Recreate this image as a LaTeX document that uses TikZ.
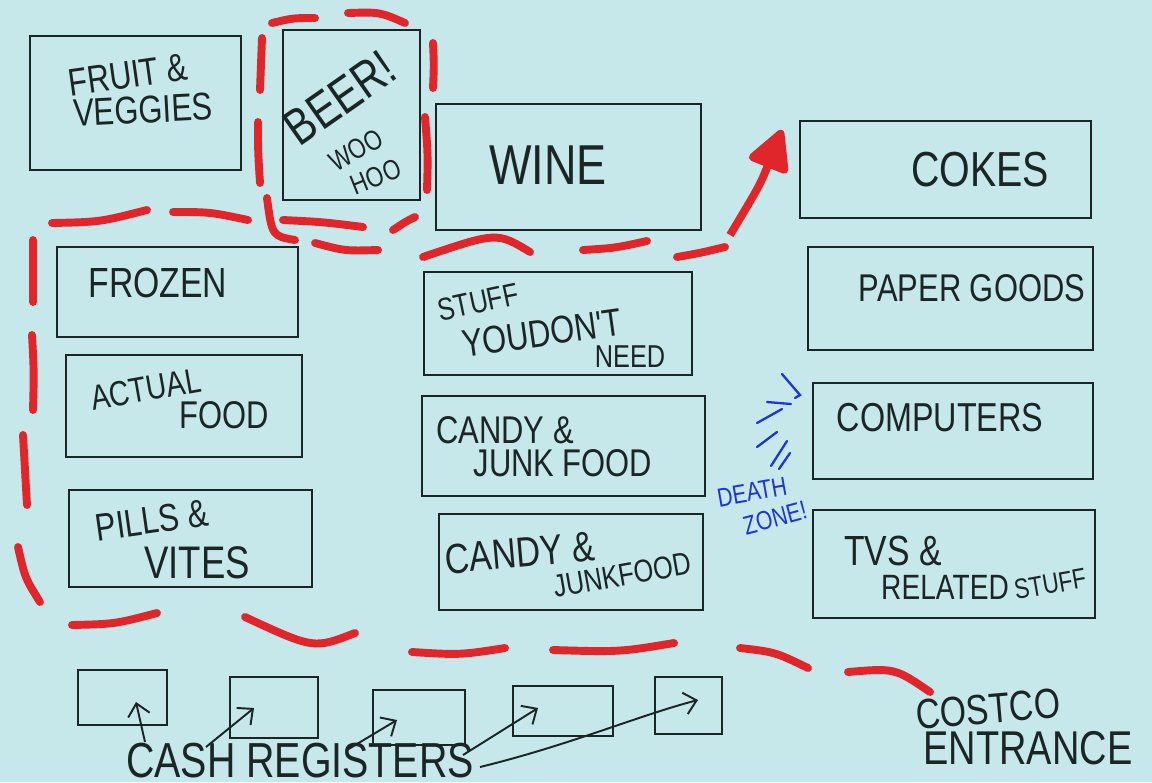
\documentclass[tikz,border=0pt]{standalone}
\usepackage{fontspec}
\usepackage{tikz}
\usetikzlibrary{arrows.meta,fit}
\newfontfamily\handfont[FakeStretch=0.8]{Liberation Sans}
\definecolor{mapbg}{HTML}{C6E8EA}
\definecolor{mapink}{HTML}{1B2526}
\definecolor{maproute}{HTML}{E1262B}
\definecolor{mapblue}{HTML}{1E34D8}
\tikzset{
  aisle/.style={draw=mapink, line width=1.6pt, inner sep=0pt},
  register/.style={draw=mapink, line width=1.6pt, inner sep=0pt},
  handtext/.style={font=\handfont\fontsize{#1}{#1}\selectfont, text=mapink, inner sep=0pt},
  zonetext/.style={font=\handfont\fontsize{#1}{#1}\selectfont, text=mapblue, inner sep=0pt},
  route/.style={draw=maproute, line width=4.5pt, line cap=round},
  penarrow/.style={-{Straight Barb[length=2.4mm,width=4.4mm]}, draw=mapink, line width=1.1pt},
  zoneray/.style={draw=mapblue, line width=1.3pt, line cap=round}
}

\begin{document}
\begin{tikzpicture}[x=0.02cm, y=-0.02cm]
  \fill[mapbg] (0,0) rectangle (1152,782);
  \useasboundingbox (0,0) rectangle (1152,782);

  % aisles
  \foreach \nm/\xa/\ya/\xb/\yb in {fruit/30/36/241/170, beer/283/30/420/200,
      wine/436/104/701/230, cokes/800/121/1091/218, frozen/57/247/298/337,
      stuff/424/272/692/375, paper/808/247/1093/350, food/66/355/302/457,
      candya/422/396/705/496, computers/813/383/1093/479, pills/69/490/312/587,
      candyb/439/514/703/610, tvs/813/510/1095/618}
    \node[aisle, fit={(\xa,\ya) (\xb,\yb)}] (\nm) {};

  % registers
  \foreach \xa/\ya/\xb/\yb [count=\i] in {78/670/167/725, 230/677/318/738,
      373/690/465/745, 513/686/613/736, 655/677/722/734}
    \node[register, fit={(\xa,\ya) (\xb,\yb)}] (reg\i) {};

  % aisle labels
  \node[handtext=22, rotate=8] (fruitlbl) at (128,75) {FRUIT \&};
  \node[handtext=22, rotate=3] (veglbl) at (143,110) {VEGGIES};
  \node[handtext=29, rotate=35] (beerlbl) at (340,98) {BEER!};
  \node[handtext=16, rotate=30] (woolbl) at (356,150) {WOO};
  \node[handtext=16, rotate=22] (hoolbl) at (376,177) {HOO};
  \node[handtext=32] (winelbl) at (548,165) {WINE};
  \node[handtext=28] (cokeslbl) at (980,170) {COKES};
  \node[handtext=24] (frozenlbl) at (158,283) {FROZEN};
  \node[handtext=22] (paperlbl) at (972,288) {PAPER GOODS};
  \node[handtext=18, rotate=12] (stufflbl) at (478,302) {STUFF};
  \node[handtext=22, rotate=8] (dontlbl) at (542,333) {YOUDON'T};
  \node[handtext=18] (needlbl) at (630,357) {NEED};
  \node[handtext=20, rotate=10] (actuallbl) at (146,389) {ACTUAL};
  \node[handtext=22] (foodlbl) at (224,415) {FOOD};
  \node[handtext=22] (candyalbl) at (505,430) {CANDY \&};
  \node[handtext=22] (junkalbl) at (563,463) {JUNK FOOD};
  \node[handtext=23] (complbl) at (940,418) {COMPUTERS};
  \node[handtext=22, rotate=8] (pillslbl) at (152,520) {PILLS \&};
  \node[handtext=26] (viteslbl) at (197,563) {VITES};
  \node[handtext=24, rotate=5] (candyblbl) at (520,553) {CANDY \&};
  \node[handtext=18, rotate=10] (junkblbl) at (622,575) {JUNKFOOD};
  \node[handtext=24] (tvslbl) at (893,551) {TVS \&};
  \node[handtext=20] (relatedlbl) at (945,587) {RELATED};
  \node[handtext=16, rotate=10] (tvstufflbl) at (1050,584) {STUFF};
  \node[handtext=28] (cashlbl) at (300,761) {CASH REGISTERS};
  \node[handtext=24, rotate=5] (costcolbl) at (988,709) {COSTCO};
  \node[handtext=27] (entrancelbl) at (1028,748) {ENTRANCE};

  % the route, dash by dash
  \foreach \xa/\ya/\cx/\cy/\xb/\yb in {848/672/895/668/930/692, 740/648/775/652/808/668,
      553/650/620/652/674/643, 412/652/460/655/505/648, 245/617/314/649/355/633,
      72/625/115/624/157/613, 18/547/25/578/40/602, 23/435/25/470/27/505,
      32/335/34/372/33/410, 33/240/33/270/33/302, 52/223/100/222/147/210,
      173/212/210/212/248/220, 262/38/261/64/260/90, 258/122/258/152/260/183,
      267/198/272/236/295/240, 272/23/293/18/315/18, 348/13/380/12/405/23,
      433/43/434/65/433/88, 425/117/428/155/427/190, 283/220/323/222/363/227,
      393/230/405/222/415/217, 315/243/345/251/378/250, 423/257/497/232/530/252,
      583/250/615/248/647/241, 677/257/700/253/725/247}
    \draw[route] (\xa,\ya) .. controls (\cx,\cy) .. (\xb,\yb);
  \coordinate (routeend) at (730,235);
  \coordinate (cokesdoor) at (782,130);
  \draw[route, line cap=butt, -{Triangle[length=9mm, width=9mm, round]}]
    (routeend) .. controls (760,185) .. (cokesdoor);

  % death zone
  \node[zonetext=15, rotate=10] (deathlbl) at (752,492) {DEATH};
  \node[zonetext=15, rotate=15] (zonelbl) at (775,518) {ZONE!};
  \draw[zoneray] (782,374) -- (800,395) -- (795,398);
  \foreach \xa/\ya/\xb/\yb in {767/402/791/404, 757/423/782/409, 757/447/777/432,
      771/466/787/441, 779/469/790/453}
    \draw[zoneray] (\xa,\ya) -- (\xb,\yb);

  % register pointers
  \foreach \tx/\ty/\hx/\hy [count=\i] in {145/742/136/702, 206/747/254/708,
      347/750/397/720, 463/755/538/708}{
    \coordinate (tail\i) at (\tx,\ty);
    \coordinate (tip\i) at (\hx,\hy);
    \draw[penarrow] (tail\i) -- (tip\i);
  }
  \coordinate (tail5) at (480,767);
  \coordinate (tip5) at (698,700);
  \draw[penarrow] (tail5) .. controls (570,745) and (640,715) .. (tip5);
\end{tikzpicture}
\end{document}
